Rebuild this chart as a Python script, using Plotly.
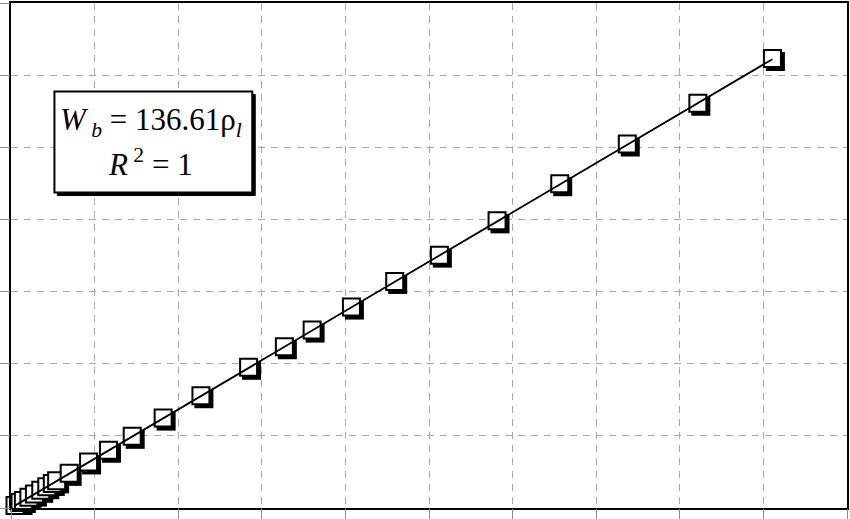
import plotly.graph_objects as go

# ---- data ----
rho_l = [0.024, 0.054, 0.074, 0.107, 0.140, 0.178, 0.214, 0.247, 0.273, 0.348,
         0.464, 0.583, 0.725, 0.910, 1.136, 1.421, 1.635, 1.801, 2.036, 2.295,
         2.562, 2.907, 3.282, 3.686, 4.108, 4.554]
W_b = [3.6, 7.6, 10.4, 15.0, 19.3, 24.5, 29.5, 34.0, 37.6, 48.0,
       63.8, 80.0, 99.3, 124.6, 155.6, 195.0, 223.5, 246.6, 278.5, 314.0,
       350.5, 398.0, 449.5, 504.5, 561.0, 623.0]
slope = 136.61
eq_line1 = "<i>W</i><sub> <i>b</i></sub> = 136.61ρ<sub><i>l</i></sub>"
eq_line2 = "<i>R</i><sup> 2</sup> = 1"
x_range = [0, 5]
y_range = [0, 700]
x_dtick = 0.5
y_dtick = 100

# ---- layout constants ----
W, H = 850, 519
ML, MR, MT, MB = 8, 1, 1, 10
PW, PH = W - ML - MR, H - MT - MB
sx = PW / (x_range[1] - x_range[0])
sy = PH / (y_range[1] - y_range[0])
SHADOW = 3  # px

def px(xp):
    return (xp - ML) / PW

def py(yp):
    return (H - MB - yp) / PH

fig = go.Figure()

# shadow markers (on shifted axes)
fig.add_trace(go.Scatter(
    x=rho_l, y=W_b, mode="markers", xaxis="x", yaxis="y",
    marker=dict(symbol="square", size=19, color="black", line=dict(width=0)),
    cliponaxis=False, hoverinfo="skip", showlegend=False))

# white square markers
fig.add_trace(go.Scatter(
    x=rho_l, y=W_b, mode="markers", xaxis="x2", yaxis="y2",
    marker=dict(symbol="square", size=17, color="white",
                line=dict(width=2, color="black")),
    cliponaxis=False, showlegend=False))

# fitted line
xl = [min(rho_l), max(rho_l)]
fig.add_trace(go.Scatter(
    x=xl, y=[slope * v for v in xl], mode="lines", xaxis="x2", yaxis="y2",
    line=dict(color="black", width=1.8), cliponaxis=False, showlegend=False))

grid = dict(showgrid=True, gridcolor="#a8a8a8", gridwidth=1, griddash="7px,6px",
            ticks="outside", ticklen=10, tickcolor="#8c8c8c", tickwidth=1,
            showticklabels=False, zeroline=False, showline=False)

fig.update_layout(
    width=W, height=H,
    margin=dict(l=ML, r=MR, t=MT, b=MB, pad=0),
    paper_bgcolor="white", plot_bgcolor="white",
    showlegend=False,
    xaxis=dict(range=[x_range[0] - SHADOW / sx, x_range[1] - SHADOW / sx],
               showgrid=False, zeroline=False, showticklabels=False, ticks="",
               showline=True, linecolor="black", linewidth=2, mirror=True),
    yaxis=dict(range=[y_range[0] + SHADOW / sy, y_range[1] + SHADOW / sy],
               showgrid=False, zeroline=False, showticklabels=False, ticks="",
               showline=True, linecolor="black", linewidth=2, mirror=True),
    xaxis2=dict(overlaying="x", side="bottom", range=x_range, dtick=x_dtick, tick0=0, **grid),
    yaxis2=dict(overlaying="y", side="left", range=y_range, dtick=y_dtick, tick0=0, **grid),
)

# equation box with shadow
bx0, by0, bx1, by1 = 51.7, 90, 250.7, 191.7
fig.add_shape(type="rect", xref="paper", yref="paper",
              x0=px(bx0 + SHADOW), x1=px(bx1 + SHADOW),
              y0=py(by1 + SHADOW), y1=py(by0 + SHADOW),
              fillcolor="black", line=dict(color="black", width=1))
fig.add_shape(type="rect", xref="paper", yref="paper",
              x0=px(bx0), x1=px(bx1), y0=py(by1), y1=py(by0),
              fillcolor="white", line=dict(color="black", width=2))

font = dict(family="Liberation Serif, Times New Roman, serif", size=31, color="black")
fig.add_annotation(xref="paper", yref="paper", x=px(149), y=py(121),
                   text=eq_line1, showarrow=False, font=font,
                   xanchor="center", yanchor="middle")
fig.add_annotation(xref="paper", yref="paper", x=px(148), y=py(161),
                   text=eq_line2, showarrow=False, font=font,
                   xanchor="center", yanchor="middle")

fig.write_html("out.html",
               config={"displayModeBar": False},
               post_script="document.body.style.margin='0';document.body.style.overflow='hidden';")
